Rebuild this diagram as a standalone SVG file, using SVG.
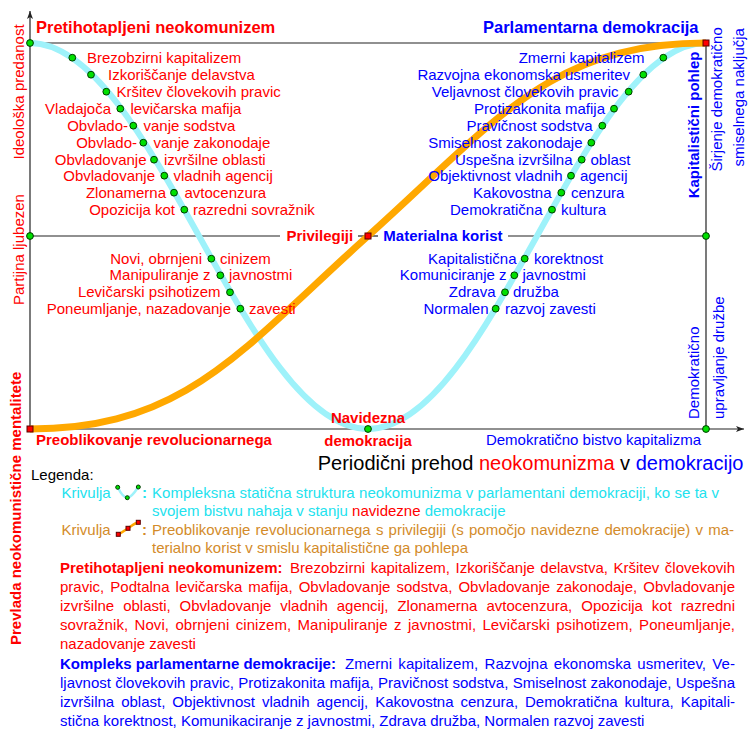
<svg xmlns="http://www.w3.org/2000/svg" width="750" height="729" viewBox="0 0 750 729">
<defs>
<style>
text{font-family:"Liberation Sans",Arial,Helvetica,sans-serif;font-size:15px}
.r{fill:#ff0000}
.b{fill:#0000ff}
.k{fill:#000}
.c{fill:#22e2ee}
.o{fill:#d38b2a}
.bd{font-weight:bold}
.t{font-size:16.5px;font-weight:bold}
.big{font-size:20px}
.e{text-anchor:end}
.m{text-anchor:middle}
.ax{stroke:#222;stroke-width:1.2;fill:none}
.cy{stroke:#9ef2fa;stroke-width:6;fill:none}
.or{stroke:#ffa800;stroke-width:7;fill:none}
.dot{fill:#00e000;stroke:#003a00;stroke-width:1}
.sq{fill:#ff0000;stroke:#5a0000;stroke-width:1}
</style>
<marker id="arr" markerWidth="10" markerHeight="8" refX="8" refY="3" orient="auto" markerUnits="userSpaceOnUse">
<path d="M0,0 L8,3 L0,6 L2,3 z" fill="#222"/>
</marker>
<circle id="d" r="3.4" class="dot"/>
<rect id="s" x="-3" y="-3" width="6" height="6" class="sq"/>
</defs>
<rect width="750" height="729" fill="#fff"/>

<g id="axes">
<line class="ax" x1="30" y1="429" x2="30" y2="11" marker-end="url(#arr)"/>
<line class="ax" x1="30" y1="429" x2="744" y2="429" marker-end="url(#arr)"/>
<line class="ax" x1="30" y1="43" x2="706" y2="43"/>
<line class="ax" x1="706" y1="43" x2="706" y2="429"/>
<line class="ax" x1="30" y1="236" x2="280" y2="236"/>
<line class="ax" x1="358" y1="236" x2="378" y2="236"/>
<line class="ax" x1="508" y1="236" x2="706" y2="236"/>
</g>

<g id="connectors">
<path class="cy" d="M30,43 C152.8,43 245.2,429 368,429 C490.8,429 583.2,43 706,43"/>
<path class="or" d="M30,429 C185,429 240,351 368,236 C496,121 551,43 706,43"/>
</g>

<g id="corner-nodes">
<use href="#d" x="30" y="43"/>
<use href="#d" x="30" y="236"/>
<use href="#d" x="706" y="236"/>
<use href="#d" x="706" y="429"/>
<use href="#s" x="706" y="43"/>
<use href="#s" x="30" y="429"/>
</g>

<g id="title-neo"><text class="r t" x="36" y="32.5">Pretihotapljeni neokomunizem</text></g>
<g id="title-dem"><text class="b t e" x="698.5" y="32.5">Parlamentarna demokracija</text></g>

<g id="n-l1"><use href="#d" x="72.3" y="57.7"/><text class="r" x="87" y="62.5">Brezobzirni kapitalizem</text></g>
<g id="n-l2"><use href="#d" x="91" y="74.7"/><text class="r" x="108" y="79.5">Izkoriščanje delavstva</text></g>
<g id="n-l3"><use href="#d" x="106.3" y="91.7"/><text class="r" x="116.5" y="96.5">Kršitev človekovih pravic</text></g>
<g id="n-l4"><use href="#d" x="120.3" y="108.7"/><text class="r e" x="111" y="113.5">Vladajoča</text><text class="r" x="130.5" y="113.5">levičarska mafija</text></g>
<g id="n-l5"><use href="#d" x="133.3" y="125.7"/><text class="r e" x="128" y="130.5">Obvlado-</text><text class="r" x="143.5" y="130.5">vanje sodstva</text></g>
<g id="n-l6"><use href="#d" x="143.3" y="142.7"/><text class="r e" x="137" y="147.5">Obvlado-</text><text class="r" x="153.5" y="147.5">vanje zakonodaje</text></g>
<g id="n-l7"><use href="#d" x="154" y="159.7"/><text class="r e" x="146.5" y="164.5">Obvladovanje</text><text class="r" x="164" y="164.5">izvršilne oblasti</text></g>
<g id="n-l8"><use href="#d" x="164.3" y="175.7"/><text class="r e" x="155" y="180.5">Obvladovanje</text><text class="r" x="173.5" y="180.5">vladnih agencij</text></g>
<g id="n-l9"><use href="#d" x="174" y="192.7"/><text class="r e" x="166" y="197.5">Zlonamerna</text><text class="r" x="184.5" y="197.5">avtocenzura</text></g>
<g id="n-l10"><use href="#d" x="184.3" y="209.7"/><text class="r e" x="175" y="214.5">Opozicija kot</text><text class="r" x="193" y="214.5">razredni sovražnik</text></g>

<g id="n-l11"><use href="#d" x="211.3" y="258.7"/><text class="r e" x="202" y="263.5">Novi, obrnjeni</text><text class="r" x="220" y="263.5">cinizem</text></g>
<g id="n-l12"><use href="#d" x="220.3" y="275.3"/><text class="r e" x="210.5" y="280">Manipuliranje z</text><text class="r" x="229" y="280">javnostmi</text></g>
<g id="n-l13"><use href="#d" x="230" y="292.3"/><text class="r e" x="220.5" y="297">Levičarski psihotizem</text></g>
<g id="n-l14"><use href="#d" x="240.3" y="308.7"/><text class="r e" x="231" y="313.5">Poneumljanje, nazadovanje</text><text class="r" x="249" y="313.5">zavesti</text></g>

<g id="n-r1"><use href="#d" x="663.3" y="57.7"/><text class="b e" x="644.5" y="62.5">Zmerni kapitalizem</text></g>
<g id="n-r2"><use href="#d" x="643.3" y="74.7"/><text class="b e" x="630" y="79.5">Razvojna ekonomska usmeritev</text></g>
<g id="n-r3"><use href="#d" x="628.7" y="91.7"/><text class="b e" x="618.5" y="96.5">Veljavnost človekovih pravic</text></g>
<g id="n-r4"><use href="#d" x="614" y="108.7"/><text class="b e" x="605" y="113.5">Protizakonita mafija</text></g>
<g id="n-r5"><use href="#d" x="602.3" y="125.7"/><text class="b e" x="592.5" y="130.5">Pravičnost sodstva</text></g>
<g id="n-r6"><use href="#d" x="591.3" y="142.7"/><text class="b e" x="582.5" y="147.5">Smiselnost zakonodaje</text></g>
<g id="n-r7"><use href="#d" x="581.7" y="159.7"/><text class="b e" x="572.5" y="164.5">Uspešna izvršilna</text><text class="b" x="590.5" y="164.5">oblast</text></g>
<g id="n-r8"><use href="#d" x="571" y="175.7"/><text class="b e" x="562.5" y="180.5">Objektivnost vladnih</text><text class="b" x="580" y="180.5">agencij</text></g>
<g id="n-r9"><use href="#d" x="561.3" y="192.7"/><text class="b e" x="551.5" y="197.5">Kakovostna</text><text class="b" x="571" y="197.5">cenzura</text></g>
<g id="n-r10"><use href="#d" x="552" y="209.7"/><text class="b e" x="542.5" y="214.5">Demokratična</text><text class="b" x="561" y="214.5">kultura</text></g>

<g id="n-r11"><use href="#d" x="524.7" y="258.7"/><text class="b e" x="516.5" y="263.5">Kapitalistična</text><text class="b" x="534" y="263.5">korektnost</text></g>
<g id="n-r12"><use href="#d" x="514.3" y="275.3"/><text class="b e" x="506.5" y="280">Komuniciranje z</text><text class="b" x="522.5" y="280">javnostmi</text></g>
<g id="n-r13"><use href="#d" x="505" y="292.3"/><text class="b e" x="495.5" y="297">Zdrava</text><text class="b" x="513" y="297">družba</text></g>
<g id="n-r14"><use href="#d" x="495.7" y="308.7"/><text class="b e" x="488.5" y="313.5">Normalen</text><text class="b" x="505" y="313.5">razvoj zavesti</text></g>

<g id="n-mid"><use href="#s" x="368" y="236"/><text class="r bd" x="286.5" y="240.5">Privilegiji</text><text class="b bd" x="383.3" y="240.5">Materialna korist</text></g>
<g id="n-navidezna"><use href="#d" x="368" y="429"/><text class="r bd m" x="368" y="423">Navidezna</text><text class="r bd m" x="368" y="445.5">demokracija</text></g>

<g id="axis-labels">
<text class="r bd" x="36" y="445">Preoblikovanje revolucionarnega</text>
<text class="b e" x="701" y="444.5">Demokratično bistvo kapitalizma</text>
<text class="big e" x="743.5" y="470"><tspan class="k">Periodični prehod </tspan><tspan class="r">neokomunizma</tspan><tspan class="k"> v </tspan><tspan class="b">demokracijo</tspan></text>
<text class="r" transform="translate(23.5,159.5) rotate(-90)">Ideološka predanost</text>
<text class="r" transform="translate(23.5,305) rotate(-90)">Partijna ljubezen</text>
<text class="r bd" transform="translate(20.5,645) rotate(-90)">Prevlada neokomunistične mentalitete</text>
<text class="b bd" transform="translate(698.5,198.3) rotate(-90)">Kapitalistični pohlep</text>
<text class="b" transform="translate(721.5,171.5) rotate(-90)">Širjenje demokratično</text>
<text class="b" transform="translate(744,166.5) rotate(-90)">smiselnega naključja</text>
<text class="b" transform="translate(699,419) rotate(-90)">Demokratično</text>
<text class="b" transform="translate(724,419) rotate(-90)">upravljanje družbe</text>
</g>

<g id="legend">
<text class="k" x="31" y="480">Legenda:</text>
<text class="c" x="61.5" y="498">Krivulja</text>
<path d="M117.7,487.3 C121,494 124,497.7 127.3,497.7 C131,497.7 135,492 138.3,487" stroke="#9ef2fa" stroke-width="2.5" fill="none"/>
<circle cx="117.7" cy="487.3" r="2" class="dot" stroke-width="0.8"/>
<circle cx="127.3" cy="497.7" r="2" class="dot" stroke-width="0.8"/>
<circle cx="138.3" cy="487" r="2" class="dot" stroke-width="0.8"/>
<text class="c bd" x="142" y="498">:</text>
<text class="c" x="152" y="498" textLength="567" lengthAdjust="spacing">Kompleksna statična struktura neokomunizma v parlamentani demokraciji, ko se ta v</text>
<text class="c" x="152" y="515.5">svojem bistvu nahaja v stanju <tspan class="r">navidezne</tspan> demokracije</text>

<text class="o" x="61.5" y="534.5">Krivulja</text>
<path d="M118.3,534.3 C122,533 125,530 128,528.3 C131,526.5 135,523 138.3,522.3" stroke="#ffa800" stroke-width="2.5" fill="none"/>
<rect x="116.3" y="532.3" width="4" height="4" class="sq" stroke-width="0.8"/>
<rect x="126" y="526.3" width="4" height="4" class="sq" stroke-width="0.8"/>
<rect x="136.3" y="520.3" width="4" height="4" class="sq" stroke-width="0.8"/>
<text class="o bd" x="142" y="534.5">:</text>
<text class="o" x="152" y="534.5" textLength="582" lengthAdjust="spacing" word-spacing="1">Preoblikovanje revolucionarnega s privilegiji (s pomočjo navidezne demokracije) v ma-</text>
<text class="o" x="152" y="552.5">terialno korist v smislu kapitalistične ga pohlepa</text>

<text class="r bd" x="60" y="573">Pretihotapljeni neokomunizem:</text>
<text class="r" x="290" y="573" textLength="445" lengthAdjust="spacing" word-spacing="1.3">Brezobzirni kapitalizem, Izkoriščanje delavstva, Kršitev človekovih</text>
<text class="r" x="60" y="592" textLength="675" lengthAdjust="spacing" word-spacing="1.9">pravic, Podtalna levičarska mafija, Obvladovanje sodstva, Obvladovanje zakonodaje, Obvladovanje</text>
<text class="r" x="60" y="611" textLength="675" lengthAdjust="spacing" word-spacing="4.8">izvršilne oblasti, Obvladovanje vladnih agencij, Zlonamerna avtocenzura, Opozicija kot razredni</text>
<text class="r" x="60" y="630" textLength="675" lengthAdjust="spacing" word-spacing="2.1">sovražnik, Novi, obrnjeni cinizem, Manipuliranje z javnostmi, Levičarski psihotizem, Poneumljanje,</text>
<text class="r" x="60" y="649">nazadovanje zavesti</text>

<text class="b bd" x="60" y="668.5">Kompleks parlamentarne demokracije:</text>
<text class="b" x="345" y="668.5" textLength="390" lengthAdjust="spacing" word-spacing="2">Zmerni kapitalizem, Razvojna ekonomska usmeritev, Ve-</text>
<text class="b" x="60" y="687.5" textLength="675" lengthAdjust="spacing" word-spacing="0.2">ljavnost človekovih pravic, Protizakonita mafija, Pravičnost sodstva, Smiselnost zakonodaje, Uspešna</text>
<text class="b" x="60" y="706.5" textLength="675" lengthAdjust="spacing" word-spacing="2.8">izvršilna oblast, Objektivnost vladnih agencij, Kakovostna cenzura, Demokratična kultura, Kapitali-</text>
<text class="b" x="60" y="725.5">stična korektnost, Komunikaciranje z javnostmi, Zdrava družba, Normalen razvoj zavesti</text>
</g>
</svg>
